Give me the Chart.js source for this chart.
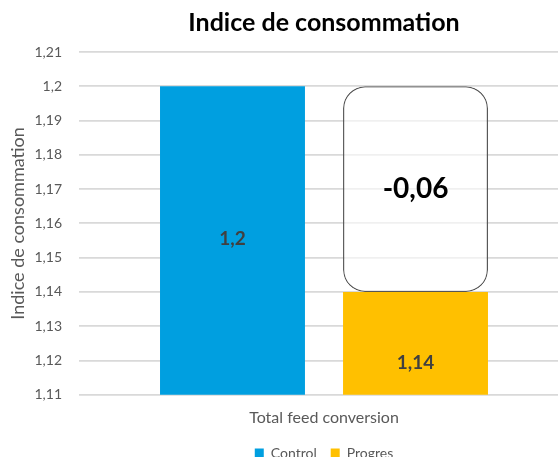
<!DOCTYPE html>
<html>
<head>
<meta charset="utf-8">
<script src="https://cdn.jsdelivr.net/npm/chart.js@4"></script>
<style>
  html, body { margin: 0; padding: 0; background: #fff; overflow: hidden; }
  /* plot area runs past the right edge, as in the cropped original */
  #frame { width: 558px; height: 457px; overflow: hidden; }
  #wrap { width: 569px; height: 457px; position: relative; }
</style>
</head>
<body>
<div id="frame"><div id="wrap"><canvas id="chart"></canvas></div></div>
<script>
// ── Data ─────────────────────────────────────────
const CATEGORIES = ['Total feed conversion'];
const CONTROL    = [1.2];
const PROGRES    = [1.14];
const DIFF       = [-0.06];
const Y_MIN = 1.11, Y_MAX = 1.21, Y_STEP = 0.01;

const FONT = 'Lato, "Open Sans", sans-serif';
const GREY = '#595959';

function fr(v) {
    return String(Number(v.toFixed(2))).replace('.', ',');
}

// Center title + legend on the plot area (Excel-like)
const centerBlocks = {
    id: 'centerBlocks',
    afterLayout(chart) {
        const a = chart.chartArea;
        [chart.titleBlock, chart.legend].forEach(b => {
            if (b) { b.left = a.left; b.right = a.right; }
        });
    }
};

// Value labels
const valueLabels = {
    id: 'valueLabels',
    afterDatasetsDraw(chart) {
        const ctx = chart.ctx;
        const bottom = chart.chartArea.bottom;
        ctx.save();
        ctx.textAlign = 'center';
        ctx.textBaseline = 'middle';

        const c = chart.getDatasetMeta(0).data[0];
        ctx.font = 'bold 19px ' + FONT;
        ctx.fillStyle = '#404040';
        ctx.fillText(fr(CONTROL[0]), c.x, (c.y + bottom) / 2 - 2);

        const p = chart.getDatasetMeta(1).data[0];
        ctx.fillText(fr(PROGRES[0]), p.x, bottom - 32);

        const d = chart.getDatasetMeta(2).data[0];
        ctx.font = 'bold 28px ' + FONT;
        ctx.fillStyle = '#000';
        ctx.fillText(fr(DIFF[0]), d.x, (d.y + d.base) / 2);
        ctx.restore();
    }
};

const BAR = { categoryPercentage: 0.747, barPercentage: 0.792 };

new Chart(document.getElementById('chart'), {
    type: 'bar',
    data: {
        labels: CATEGORIES,
        datasets: [
            {
                label: 'Control',
                data: CONTROL,
                stack: 'a',
                backgroundColor: '#009FE0',
                ...BAR,
            },
            {
                label: 'Progres',
                data: PROGRES,
                stack: 'b',
                backgroundColor: '#FFC000',
                ...BAR,
            },
            {
                label: 'diff',
                data: DIFF.map(v => -v),
                stack: 'b',
                backgroundColor: 'rgba(255,255,255,0.6)',
                borderColor: '#555',
                borderWidth: 1.3,
                borderRadius: 22,
                borderSkipped: false,
                ...BAR,
            },
        ],
    },
    options: {
        responsive: true,
        maintainAspectRatio: false,
        animation: false,
        layout: { padding: { left: 7, right: 0, top: 0, bottom: -13 } },
        plugins: {
            title: {
                display: true,
                text: 'Indice de consommation',
                color: '#000',
                font: { family: FONT, size: 25, weight: 'bold' },
                padding: { top: 8, bottom: 14 },
            },
            legend: {
                position: 'bottom',
                labels: {
                    color: GREY,
                    font: { family: FONT, size: 14 },
                    boxWidth: 9,
                    boxHeight: 9,
                    padding: 14,
                    filter: item => item.text !== 'diff',
                },
            },
            tooltip: { enabled: false },
        },
        scales: {
            x: {
                stacked: true,
                grid: { display: false },
                border: { display: false },
                ticks: { color: GREY, font: { family: FONT, size: 16 }, padding: 5 },
            },
            y: {
                stacked: true,
                min: Y_MIN,
                max: Y_MAX,
                afterFit: s => { s.width = 72; },
                grid: { color: '#d9d9d9', lineWidth: 1.8, drawTicks: false },
                border: { display: false },
                ticks: {
                    stepSize: Y_STEP,
                    color: GREY,
                    font: { family: FONT, size: 14 },
                    padding: 17,
                    callback: v => fr(v),
                },
                title: {
                    display: true,
                    text: 'Indice de consommation',
                    color: GREY,
                    font: { family: FONT, size: 18 },
                    padding: { top: 0, bottom: 3 },
                },
            },
        },
    },
    plugins: [centerBlocks, valueLabels],
});
</script>
</body>
</html>
